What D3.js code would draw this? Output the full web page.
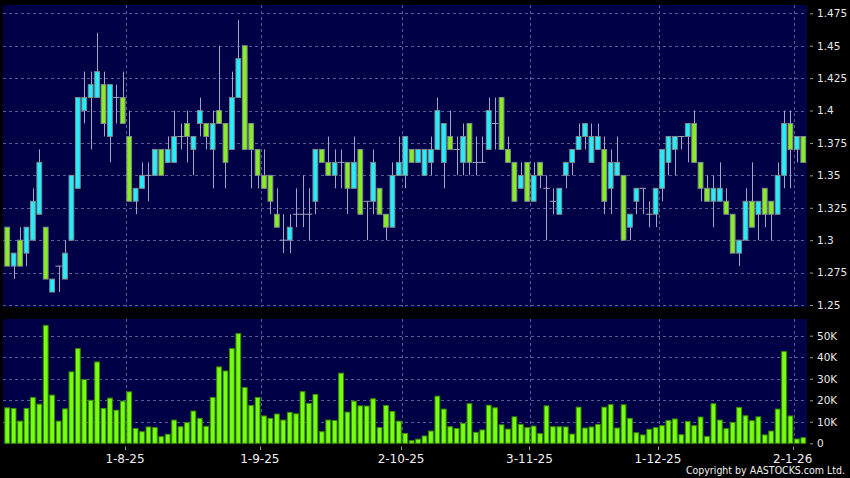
<!DOCTYPE html>
<html>
<head>
<meta charset="utf-8">
<script src="https://cdnjs.cloudflare.com/ajax/libs/d3/7.8.5/d3.min.js"></script>
<style>
  html, body { margin: 0; padding: 0; background: #000; }
  svg { display: block; }
</style>
</head>
<body>
<div id="chart"></div>
<script>
// daily candles, oldest first
var open  = [1.31,1.28,1.30,1.29,1.30,1.32,1.31,1.26,1.28,1.27,1.30,1.34,1.40,1.41,1.41,1.42,1.38,1.41,1.41,1.38,
             1.33,1.34,1.35,1.35,1.37,1.36,1.36,1.38,1.39,1.37,1.39,1.39,1.37,1.40,1.39,1.37,1.41,1.45,1.39,1.37,
             1.35,1.35,1.32,1.30,1.30,1.32,1.32,1.32,1.33,1.37,1.36,1.35,1.36,1.36,1.34,1.37,1.33,1.33,1.34,1.32,
             1.31,1.35,1.35,1.37,1.36,1.35,1.36,1.37,1.36,1.38,1.37,1.36,1.39,1.36,1.36,1.37,1.39,1.41,1.37,1.36,
             1.34,1.36,1.33,1.36,1.34,1.33,1.32,1.35,1.36,1.37,1.38,1.36,1.37,1.37,1.34,1.35,1.35,1.31,1.33,1.34,
             1.32,1.32,1.34,1.36,1.37,1.38,1.38,1.39,1.36,1.34,1.33,1.33,1.33,1.32,1.29,1.30,1.33,1.32,1.34,1.33,
             1.32,1.35,1.39,1.37,1.38];
var high  = [1.31,1.29,1.31,1.31,1.34,1.37,1.31,1.27,1.28,1.30,1.35,1.41,1.43,1.43,1.46,1.43,1.42,1.42,1.43,1.40,
             1.34,1.36,1.36,1.37,1.37,1.38,1.40,1.39,1.40,1.38,1.41,1.39,1.40,1.45,1.39,1.43,1.47,1.45,1.39,1.37,
             1.37,1.35,1.34,1.32,1.32,1.34,1.35,1.34,1.37,1.37,1.38,1.37,1.37,1.36,1.38,1.37,1.33,1.37,1.34,1.32,
             1.36,1.38,1.38,1.37,1.37,1.37,1.38,1.41,1.39,1.40,1.38,1.39,1.39,1.38,1.38,1.41,1.41,1.41,1.38,1.36,
             1.36,1.36,1.36,1.36,1.35,1.34,1.34,1.36,1.37,1.39,1.39,1.39,1.39,1.38,1.37,1.38,1.35,1.32,1.34,1.34,
             1.33,1.34,1.37,1.38,1.38,1.38,1.39,1.40,1.36,1.35,1.35,1.36,1.34,1.32,1.30,1.34,1.36,1.33,1.34,1.33,
             1.36,1.40,1.40,1.38,1.38];
var low   = [1.28,1.27,1.28,1.28,1.30,1.32,1.27,1.26,1.26,1.27,1.30,1.34,1.39,1.37,1.41,1.38,1.36,1.39,1.39,1.33,
             1.32,1.34,1.33,1.35,1.35,1.36,1.36,1.37,1.36,1.35,1.38,1.37,1.34,1.39,1.34,1.37,1.41,1.37,1.34,1.34,
             1.34,1.32,1.31,1.29,1.29,1.31,1.31,1.30,1.32,1.36,1.35,1.34,1.34,1.32,1.34,1.32,1.30,1.32,1.32,1.30,
             1.31,1.35,1.34,1.36,1.36,1.35,1.35,1.37,1.34,1.37,1.35,1.35,1.35,1.35,1.36,1.37,1.37,1.37,1.36,1.33,
             1.34,1.33,1.33,1.34,1.30,1.32,1.32,1.34,1.35,1.37,1.37,1.36,1.37,1.32,1.32,1.35,1.30,1.30,1.32,1.32,
             1.31,1.31,1.33,1.35,1.35,1.37,1.36,1.36,1.33,1.33,1.31,1.33,1.32,1.29,1.28,1.30,1.31,1.30,1.31,1.30,
             1.32,1.34,1.34,1.36,1.36];
var close = [1.28,1.29,1.28,1.31,1.33,1.36,1.27,1.27,1.28,1.29,1.35,1.41,1.41,1.42,1.43,1.39,1.42,1.41,1.39,1.33,
             1.34,1.35,1.35,1.37,1.35,1.37,1.38,1.38,1.38,1.38,1.40,1.38,1.39,1.39,1.36,1.41,1.44,1.37,1.37,1.35,
             1.34,1.33,1.31,1.30,1.31,1.32,1.32,1.32,1.37,1.36,1.35,1.36,1.36,1.34,1.36,1.32,1.33,1.36,1.32,1.31,
             1.35,1.36,1.38,1.36,1.37,1.37,1.37,1.40,1.39,1.37,1.37,1.38,1.36,1.36,1.36,1.40,1.39,1.37,1.36,1.33,
             1.35,1.33,1.35,1.35,1.34,1.33,1.34,1.36,1.37,1.38,1.39,1.38,1.38,1.33,1.36,1.36,1.30,1.32,1.34,1.34,
             1.32,1.34,1.37,1.38,1.38,1.38,1.39,1.36,1.34,1.33,1.34,1.34,1.32,1.29,1.30,1.33,1.31,1.33,1.32,1.32,
             1.35,1.39,1.37,1.38,1.36];
// volume in thousands of shares
var volume = [16.5,16.2,10.3,16.2,21.3,18.2,54.8,22.4,10.3,16,33.2,44,29.6,20,37.8,16.2,21,15.4,19.6,23.9,
              6.9,5.4,7.6,7.3,3.1,4.2,10.8,7.7,9.6,15,11.6,7.9,21.3,35.5,33.6,44,51,25.9,17.6,21.3,
              12.7,11.6,13.6,10.8,14.4,13.7,24,18.5,22.7,5.4,10.8,10.6,32.6,14.5,19.6,17.4,17.3,20.7,7.3,17.6,
              14.8,10.3,4.6,1.2,1.9,3.4,5.7,21.9,15.9,7.7,6.9,9.3,18.4,5.1,6.2,17.7,16.5,8.6,6.6,12.3,
              8.8,7.3,8.0,4.5,17.4,7.7,7.7,7.6,4.3,16.8,7.1,7.6,8.8,16.8,18,7.1,17.9,11.6,4.9,3.9,
              6.5,7.3,8.2,10.6,11.3,4.0,10.2,8.2,12.2,3.2,18.4,10.8,6.8,9.7,16.7,12.8,10.5,12.3,3.9,5.7,
              15.9,42.7,12.7,2.0,2.6];

// date ticks: bar index and label
var dateTickIdx = [18, 39, 61, 81, 101, 122];
var dateTickLabels = ["1-8-25", "1-9-25", "2-10-25", "3-11-25", "1-12-25", "2-1-26"];

var priceTicks = [1.25, 1.275, 1.3, 1.325, 1.35, 1.375, 1.4, 1.425, 1.45, 1.475];
var priceTickLabels = ["1.25", "1.275", "1.3", "1.325", "1.35", "1.375", "1.4", "1.425", "1.45", "1.475"];
var volTicks = [0, 10, 20, 30, 40, 50];
var volTickLabels = ["0", "10K", "20K", "30K", "40K", "50K"];

/*********************** Plot Below *********************/
var width = 850, height = 478;
var navy = "#000046", gridColor = "#5a5a96";
var upColor = "#22eeff", downColor = "#88ee22";

var svg = d3.select("#chart").append("svg")
  .attr("width", width)
  .attr("height", height)
  .style("background", "#000");

var plotLeft = 3, plotRight = 807;
var pTop = 5, pBottom = 307;
var vTop = 319, vBottom = 444;

var n = open.length;
var xScale = d3.scaleBand()
  .domain(d3.range(n))
  .range([4, 806.5])
  .paddingInner(0.1)
  .paddingOuter(0.05);
var step = xScale.step();
function xc(i) { return xScale(i) + xScale.bandwidth() / 2; }
// date ticks sit a bit right of the bar centre
function xt(i) { return xc(i) + step * 0.35; }

var yPrice = d3.scaleLinear().domain([1.25, 1.475]).range([305, 13.3]);
var yVol = d3.scaleLinear().domain([0, 50]).range([443.3, 335.7]);

// panels
svg.append("rect").attr("x", plotLeft).attr("y", pTop)
  .attr("width", plotRight - plotLeft).attr("height", pBottom - pTop).attr("fill", navy);
svg.append("rect").attr("x", plotLeft).attr("y", vTop)
  .attr("width", plotRight - plotLeft).attr("height", vBottom - vTop).attr("fill", navy);

// grid
var grid = svg.append("g")
  .attr("stroke", gridColor)
  .attr("stroke-width", 1)
  .attr("stroke-dasharray", "3,3");

grid.selectAll(".hp").data(priceTicks).enter().append("line")
  .attr("x1", plotLeft).attr("x2", plotRight)
  .attr("y1", function(d) { return Math.round(yPrice(d)) + 0.5; })
  .attr("y2", function(d) { return Math.round(yPrice(d)) + 0.5; });

grid.selectAll(".hv").data(volTicks.slice(1)).enter().append("line")
  .attr("x1", plotLeft).attr("x2", plotRight)
  .attr("y1", function(d) { return Math.round(yVol(d)) + 0.5; })
  .attr("y2", function(d) { return Math.round(yVol(d)) + 0.5; });

grid.selectAll(".vp").data(dateTickIdx).enter().append("line")
  .attr("x1", function(d) { return Math.round(xc(d) + step / 2) + 0.5; })
  .attr("x2", function(d) { return Math.round(xc(d) + step / 2) + 0.5; })
  .attr("y1", pTop).attr("y2", pBottom);

grid.selectAll(".vv").data(dateTickIdx).enter().append("line")
  .attr("x1", function(d) { return Math.round(xc(d) + step / 2) + 0.5; })
  .attr("x2", function(d) { return Math.round(xc(d) + step / 2) + 0.5; })
  .attr("y1", vTop).attr("y2", vBottom);

// candles
var candles = svg.append("g").selectAll("g")
  .data(d3.range(n))
  .enter().append("g");

candles.append("line")
  .attr("x1", function(i) { return Math.round(xc(i)) + 0.5; })
  .attr("x2", function(i) { return Math.round(xc(i)) + 0.5; })
  .attr("y1", function(i) { return yPrice(high[i]); })
  .attr("y2", function(i) { return yPrice(low[i]); })
  .attr("stroke", "#a4a4c0")
  .attr("stroke-width", 1);

candles.filter(function(i) { return open[i] !== close[i]; })
  .append("rect")
  .attr("x", function(i) { return xScale(i) + 0.5; })
  .attr("width", xScale.bandwidth() - 1)
  .attr("y", function(i) { return yPrice(Math.max(open[i], close[i])); })
  .attr("height", function(i) { return Math.abs(yPrice(open[i]) - yPrice(close[i])); })
  .attr("fill", function(i) { return close[i] > open[i] ? upColor : downColor; })
  .attr("stroke", "#7f8c8c")
  .attr("stroke-width", 1);

// doji: flat tick
candles.filter(function(i) { return open[i] === close[i]; })
  .append("line")
  .attr("x1", function(i) { return xc(i) - step / 2; })
  .attr("x2", function(i) { return xc(i) + step / 2; })
  .attr("y1", function(i) { return yPrice(close[i]); })
  .attr("y2", function(i) { return yPrice(close[i]); })
  .attr("stroke", "#a4a4c0")
  .attr("stroke-width", 1);

// volume bars
svg.append("g").selectAll("rect")
  .data(volume)
  .enter().append("rect")
  .attr("x", function(d, i) { return xScale(i) + 0.5; })
  .attr("width", xScale.bandwidth() - 1)
  .attr("y", function(d) { return yVol(d); })
  .attr("height", function(d) { return yVol(0) - yVol(d); })
  .attr("fill", "#77ff11")
  .attr("stroke", "#3a8a00")
  .attr("stroke-width", 1);

// right axes
var priceAxis = d3.axisRight(yPrice)
  .tickValues(priceTicks)
  .tickFormat(function(d, i) { return priceTickLabels[i]; })
  .tickSize(3)
  .tickPadding(4);
var pa = svg.append("g").attr("transform", "translate(810,0)").call(priceAxis);

var volAxis = d3.axisRight(yVol)
  .tickValues(volTicks)
  .tickFormat(function(d, i) { return volTickLabels[i]; })
  .tickSize(3)
  .tickPadding(4);
var va = svg.append("g").attr("transform", "translate(810,0)").call(volAxis);

[pa, va].forEach(function(a) {
  a.select(".domain").remove();
  a.selectAll("line").attr("stroke", "#999");
  a.selectAll("text")
    .attr("fill", "#e8e8e8")
    .style("font-family", "DejaVu Sans, sans-serif")
    .style("font-size", "10.5px");
});

// date axis
var dateAxis = svg.append("g");
dateAxis.selectAll("line").data(dateTickIdx).enter().append("line")
  .attr("x1", function(d) { return Math.round(xt(d)) + 0.5; })
  .attr("x2", function(d) { return Math.round(xt(d)) + 0.5; })
  .attr("y1", 446.5).attr("y2", 450)
  .attr("stroke", "#999");
dateAxis.selectAll("text").data(dateTickIdx).enter().append("text")
  .attr("x", function(d) { return xt(d); })
  .attr("y", 462.5)
  .attr("text-anchor", "middle")
  .attr("fill", "#f0f0f0")
  .style("font-family", "DejaVu Sans, sans-serif")
  .style("font-size", "12px")
  .text(function(d, i) { return dateTickLabels[i]; });

svg.append("text")
  .attr("x", 845)
  .attr("y", 474)
  .attr("text-anchor", "end")
  .attr("fill", "#f0f0f0")
  .style("font-family", "'DejaVu Sans Condensed', 'DejaVu Sans', sans-serif")
  .style("font-stretch", "condensed")
  .style("font-size", "10.5px")
  .text("Copyright by AASTOCKS.com Ltd.");
</script>
</body>
</html>
